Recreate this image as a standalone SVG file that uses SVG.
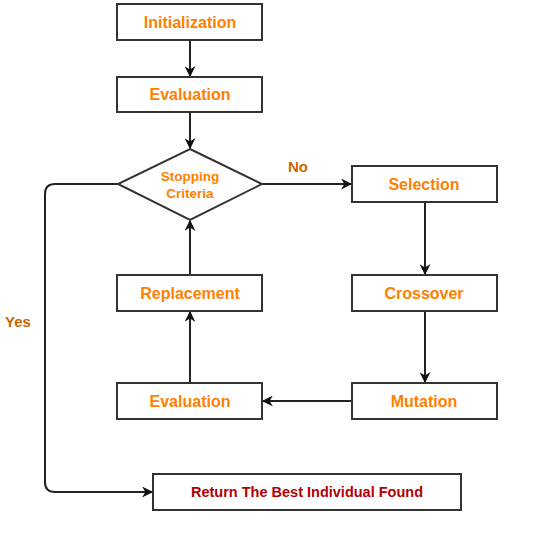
<svg xmlns="http://www.w3.org/2000/svg" width="543" height="533" viewBox="0 0 543 533">
<style>
.box{fill:#fff;stroke:#333;stroke-width:2}
.t{font-family:"Liberation Sans",Arial,sans-serif;font-weight:bold;fill:#FF8000;font-size:16px;text-anchor:middle}
.e{fill:none;stroke:#222;stroke-width:2}
.lbl{font-family:"Liberation Sans",Arial,sans-serif;font-weight:bold;fill:#CC6600;font-size:15px;text-anchor:middle}
</style>
<defs>
<marker id="ah" viewBox="0 0 10 10" refX="9" refY="5" markerWidth="11" markerHeight="11" markerUnits="userSpaceOnUse" orient="auto">
<path d="M0,0 L10,5 L0,10 L3,5 Z" fill="#111"/>
</marker>
</defs>
<rect width="543" height="533" fill="#fff"/>
<g id="connectors">
<path class="e" d="M190,40 V76" marker-end="url(#ah)"/>
<path class="e" d="M190,112 V148" marker-end="url(#ah)"/>
<path class="e" d="M262,184 H351" marker-end="url(#ah)"/>
<path class="e" d="M425,202 V274" marker-end="url(#ah)"/>
<path class="e" d="M425,311 V382" marker-end="url(#ah)"/>
<path class="e" d="M352,401 H263" marker-end="url(#ah)"/>
<path class="e" d="M190,383 V312" marker-end="url(#ah)"/>
<path class="e" d="M190,275 V221" marker-end="url(#ah)"/>
<path class="e" d="M118,184 H55 Q45,184 45,194 V482 Q45,492 55,492 H152" marker-end="url(#ah)"/>
<text class="lbl" x="298" y="172">No</text>
<text class="lbl" x="18" y="327">Yes</text>
</g>
<g id="init"><rect class="box" x="117" y="4" width="145" height="36"/><text class="t" x="190" y="27.5">Initialization</text></g>
<g id="eval1"><rect class="box" x="117" y="77" width="145" height="35"/><text class="t" x="190" y="100">Evaluation</text></g>
<g id="stop"><path class="box" d="M190,149 L262,184 L190,220 L118,184 Z"/><text class="t" x="190" y="181" style="font-size:13.5px">Stopping</text><text class="t" x="190" y="198" style="font-size:13.5px">Criteria</text></g>
<g id="selection"><rect class="box" x="352" y="166" width="145" height="36"/><text class="t" x="424" y="189.5">Selection</text></g>
<g id="crossover"><rect class="box" x="352" y="275" width="145" height="36"/><text class="t" x="424" y="298.5">Crossover</text></g>
<g id="mutation"><rect class="box" x="352" y="383" width="145" height="36"/><text class="t" x="424" y="406.5">Mutation</text></g>
<g id="eval2"><rect class="box" x="117" y="383" width="145" height="36"/><text class="t" x="190" y="406.5">Evaluation</text></g>
<g id="replacement"><rect class="box" x="117" y="275" width="145" height="36"/><text class="t" x="190" y="298.5">Replacement</text></g>
<g id="return"><rect class="box" x="153" y="474" width="308" height="36"/><text class="t" x="307" y="497" style="fill:#B20000;font-size:14.5px">Return The Best Individual Found</text></g>
</svg>
